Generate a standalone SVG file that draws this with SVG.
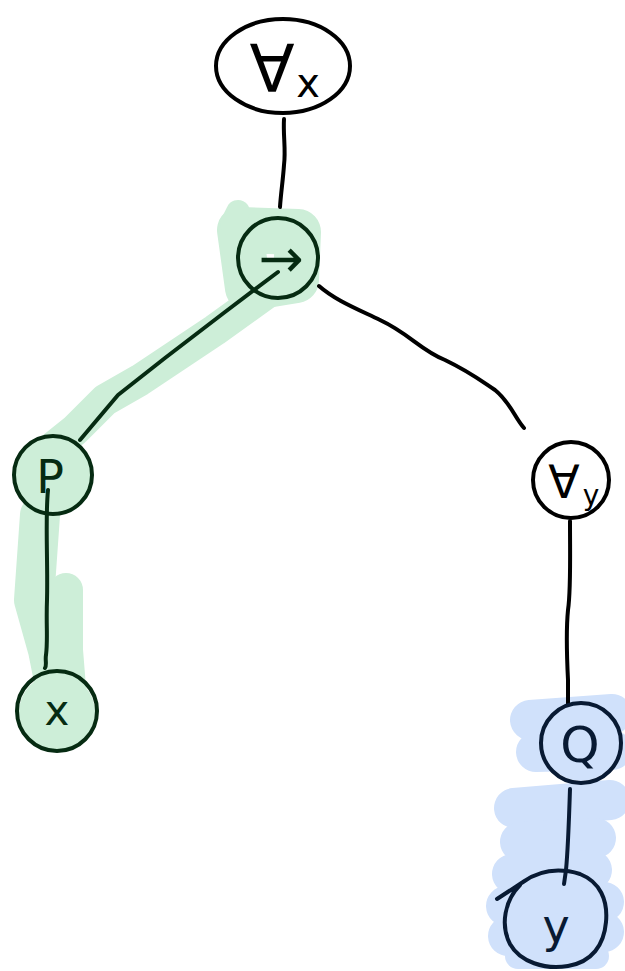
<svg xmlns="http://www.w3.org/2000/svg" width="625" height="971" viewBox="0 0 625 971">
  <style>
    .hl-green { fill: none; stroke: #cdeed8; stroke-linecap: round; stroke-linejoin: round; }
    .hl-green-f { fill: #cdeed8; }
    .hl-blue { fill: none; stroke: #d0e1fb; stroke-linecap: round; stroke-linejoin: round; }
    .hl-blue-f { fill: #d0e1fb; }
    .ink { fill: none; stroke: #000; stroke-width: 4; stroke-linecap: round; stroke-linejoin: round; }
    .ink-g { fill: none; stroke: #062b12; stroke-width: 4; stroke-linecap: round; stroke-linejoin: round; }
    .ink-b { fill: none; stroke: #081a33; stroke-width: 4; stroke-linecap: round; stroke-linejoin: round; }
    .lbl { font-family: "DejaVu Sans", "Liberation Sans", sans-serif; text-anchor: middle; }
  </style>

  <!-- marker highlights -->
  <g id="highlight-green">
    <path class="hl-green" stroke-width="46" d="M240 230 L298 232 L296 280 L248 288 Z"/>
    <path class="hl-green" stroke-width="24" d="M232 224 L238 212"/>
    <path class="hl-green" stroke-width="32" d="M290 276 L215 330 L140 380 L105 400 L75 430 L50 450"/>
    <circle class="hl-green-f" cx="53" cy="475" r="38"/>
    <path class="hl-green" stroke-width="40" d="M40 515 L34 600 L48 650 L58 700"/>
    <path class="hl-green" stroke-width="34" d="M66 590 L66 650 L70 700"/>
    <circle class="hl-green-f" cx="57" cy="712" r="38"/>
  </g>
  <g id="highlight-blue">
    <path class="hl-blue" stroke-width="40" d="M530 720 L612 714"/>
    <path class="hl-blue" stroke-width="40" d="M536 752 L612 750"/>
    <path class="hl-blue" stroke-width="40" d="M514 808 L610 800"/>
    <path class="hl-blue" stroke-width="40" d="M520 842 L596 838"/>
    <path class="hl-blue" stroke-width="40" d="M512 874 L592 870"/>
    <path class="hl-blue" stroke-width="40" d="M506 906 L604 902"/>
    <path class="hl-blue" stroke-width="40" d="M508 936 L604 932"/>
    <path class="hl-blue" stroke-width="26" d="M518 956 L596 956"/>
    <circle class="hl-blue-f" cx="581" cy="743" r="38"/>
  </g>

  <!-- connectors -->
  <g id="connectors">
    <path class="ink" d="M284 119 C283 135 286 150 284 165 C283 180 281 192 280 207"/>
    <path class="ink-g" d="M278 272 L225 312 L165 358 L118 395 L80 440"/>
    <path class="ink" d="M319 286 C335 300 355 308 380 320 C410 334 420 350 445 360 C470 372 480 380 495 390 C510 402 515 418 524 428"/>
    <path class="ink-g" d="M48 490 C45 520 48 560 47 600 C46 625 48 640 46 655 C45 660 47 665 45 668"/>
    <path class="ink" d="M570 521 C570 560 571 590 568 610 C566 630 567 660 568 680 L568 704"/>
    <path class="ink-b" d="M570 789 C569 820 568 850 566 870 L564 884"/>
  </g>

  <!-- nodes -->
  <g id="node-forall-x">
    <ellipse class="ink" cx="283" cy="66" rx="67" ry="47"/>
    <text class="lbl" x="272" y="92" font-size="66">∀</text>
    <text class="lbl" x="308" y="97" font-size="40">x</text>
  </g>
  <g id="node-implies">
    <circle class="ink-g" cx="278" cy="258" r="40"/>
    <text class="lbl" x="281" y="277" font-size="54" fill="#062b12">→</text>
  </g>
  <g id="node-p">
    <circle class="ink-g" cx="53" cy="475" r="39"/>
    <text class="lbl" x="50" y="493" font-size="46" fill="#062b12">P</text>
  </g>
  <g id="node-x">
    <circle class="ink-g" cx="57" cy="711" r="40"/>
    <text class="lbl" x="57" y="725" font-size="42" fill="#062b12">x</text>
  </g>
  <g id="node-forall-y">
    <circle class="ink" cx="571" cy="480" r="38"/>
    <text class="lbl" x="564" y="498" font-size="46">∀</text>
    <text class="lbl" x="591" y="505" font-size="28">y</text>
  </g>
  <g id="node-q">
    <circle class="ink-b" cx="581" cy="743" r="40"/>
    <text class="lbl" x="580" y="762" font-size="50" fill="#081a33">Q</text>
  </g>
  <g id="node-y">
    <path class="ink-b" d="M497 899 L523 882 C540 870 560 868 580 874 C600 882 608 900 606 922 C604 945 592 962 568 966 C545 970 520 962 510 944 C500 925 505 900 520 885"/>
    <text class="lbl" x="556" y="942" font-size="46" fill="#081a33">y</text>
  </g>
</svg>
